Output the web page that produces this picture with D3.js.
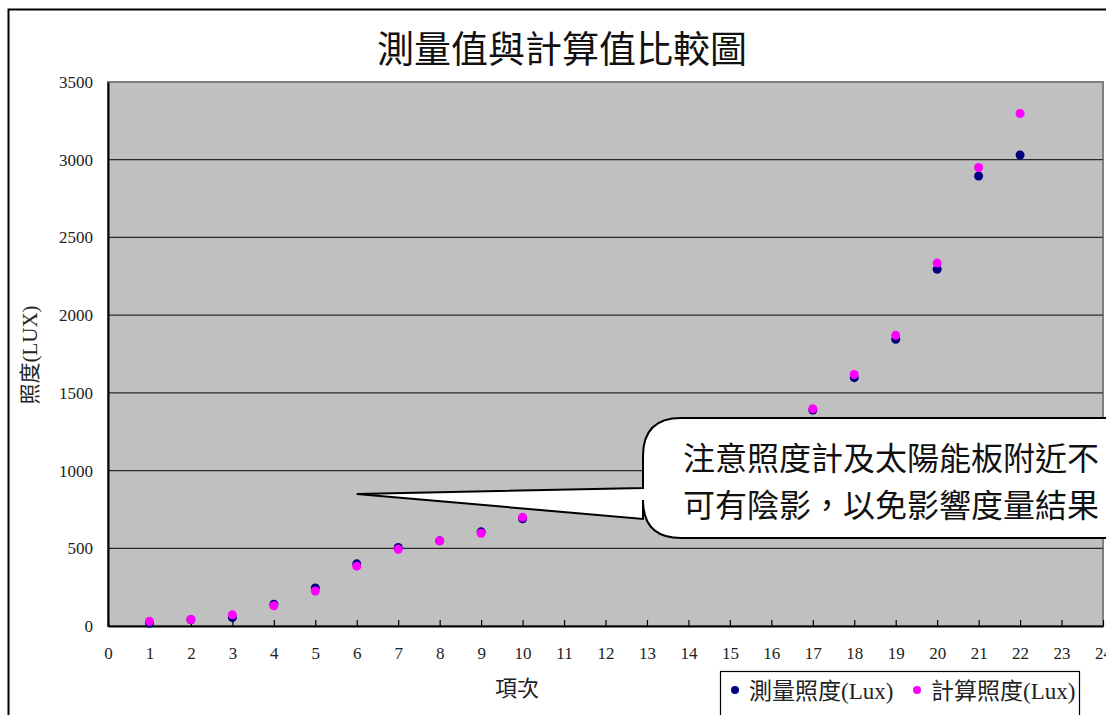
<!DOCTYPE html>
<html>
<head>
<meta charset="utf-8">
<script src="https://cdn.jsdelivr.net/npm/d3@7"></script>
<style>
  html, body { margin: 0; padding: 0; background: #fff; }
  svg { display: block; }
</style>
</head>
<body>
<svg id="chart" width="1106" height="715"></svg>
<script>
// Measurement items (項次) and illuminance values in lux
const items = [1, 2, 3, 4, 5, 6, 7, 8, 9, 10, 17, 18, 19, 20, 21, 22];
const measured = [18, 40, 55, 140, 245, 400, 505, 548, 606, 690, 1390, 1598, 1845, 2295, 2895, 3030];
const calculated = [30, 42, 72, 130, 225, 385, 493, 548, 597, 700, 1398, 1618, 1870, 2335, 2950, 3297];
const xTicks = d3.range(0, 25);
const yTicks = [0, 500, 1000, 1500, 2000, 2500, 3000, 3500];
const seriesNames = ["測量照度(Lux)", "計算照度(Lux)"];
const seriesColors = ["#000080", "#FF00FF"];
const noteLines = ["注意照度計及太陽能板附近不", "可有陰影，以免影響度量結果"];
const noteTarget = [6, 850];

const svg = d3.select("#chart");
const cjk = "'Noto Sans CJK TC', 'Noto Sans CJK SC', sans-serif";
const serif = "'Liberation Serif', 'DejaVu Serif', serif";
const mixed = "'Liberation Serif', 'Noto Sans CJK TC', serif";

const plot = { left: 108, right: 1103, top: 82, bottom: 626 };
const x = d3.scaleLinear().domain([0, 24]).range([plot.left, plot.right]);
const y = d3.scaleLinear().domain([0, 3500]).range([plot.bottom, plot.top]);

// outer chart frame
svg.append("rect")
  .attr("x", 8.5).attr("y", 9.5).attr("width", 1120).attr("height", 740)
  .attr("fill", "#fff").attr("stroke", "#000").attr("stroke-width", 2);

// title
svg.append("text")
  .attr("x", 562).attr("y", 63)
  .attr("text-anchor", "middle")
  .attr("font-family", cjk).attr("font-size", 37).attr("fill", "#111")
  .text("測量值與計算值比較圖");

// plot area
svg.append("rect")
  .attr("x", plot.left).attr("y", plot.top)
  .attr("width", plot.right - plot.left).attr("height", plot.bottom - plot.top)
  .attr("fill", "#C0C0C0").attr("stroke", "#808080").attr("stroke-width", 2);

// horizontal gridlines
svg.append("g")
  .selectAll("line")
  .data(yTicks.filter(v => v > 0 && v < 3500))
  .join("line")
  .attr("x1", plot.left).attr("x2", plot.right)
  .attr("y1", d => y(d)).attr("y2", d => y(d))
  .attr("stroke", "#2a2a2a").attr("stroke-width", 1.2);

// x axis with inward ticks
const xAxis = d3.axisBottom(x).tickValues(xTicks).tickSizeInner(-6).tickSizeOuter(0).tickPadding(24);
const gx = svg.append("g").attr("transform", `translate(0,${plot.bottom})`).call(xAxis);
gx.select(".domain").attr("stroke", "#000").attr("stroke-width", 2);
gx.selectAll(".tick line").attr("stroke", "#000").attr("stroke-width", 1.2);
gx.selectAll(".tick text")
  .attr("font-family", serif).attr("font-size", 17).attr("fill", "#222")
  .attr("dy", "0.5em");

// y axis
const yAxis = d3.axisLeft(y).tickValues(yTicks).tickFormat(d3.format("d")).tickSize(0).tickPadding(15);
const gy = svg.append("g").attr("transform", `translate(${plot.left},0)`).call(yAxis);
gy.select(".domain").attr("stroke", "#000").attr("stroke-width", 2);
gy.selectAll(".tick text")
  .attr("font-family", serif).attr("font-size", 17).attr("fill", "#222");

// axis titles
svg.append("text")
  .attr("x", 517).attr("y", 696)
  .attr("text-anchor", "middle")
  .attr("font-family", cjk).attr("font-size", 22).attr("fill", "#222")
  .text("項次");

svg.append("text")
  .attr("transform", "translate(37,355) rotate(-90)")
  .attr("text-anchor", "middle")
  .attr("font-family", mixed).attr("font-size", 21).attr("fill", "#222")
  .text("照度(LUX)");

// data points: measured first, calculated on top
const series = [measured, calculated];
series.forEach((vals, i) => {
  svg.append("g")
    .selectAll("circle")
    .data(items.map((it, k) => [it, vals[k]]))
    .join("circle")
    .attr("cx", d => x(d[0]))
    .attr("cy", d => y(d[1]))
    .attr("r", 4.5)
    .attr("fill", seriesColors[i]);
});

// callout bubble with pointer
const tip = [x(noteTarget[0]), y(noteTarget[1])];
const bx0 = 643, bx1 = 1160, by0 = 418, by1 = 538, r = 38;
const j0 = 488, j1 = 519;
const bubble = d3.path();
bubble.moveTo(bx0 + r, by0);
bubble.lineTo(bx1 - r, by0);
bubble.quadraticCurveTo(bx1, by0, bx1, by0 + r);
bubble.lineTo(bx1, by1 - r);
bubble.quadraticCurveTo(bx1, by1, bx1 - r, by1);
bubble.lineTo(bx0 + r, by1);
bubble.quadraticCurveTo(bx0, by1, bx0, by1 - r);
bubble.lineTo(bx0, j1);
bubble.lineTo(tip[0], tip[1]);
bubble.lineTo(bx0, j0);
bubble.lineTo(bx0, by0 + r);
bubble.quadraticCurveTo(bx0, by0, bx0 + r, by0);
bubble.closePath();
svg.append("path")
  .attr("d", bubble.toString())
  .attr("fill", "#fff").attr("stroke", "#000").attr("stroke-width", 2)
  .attr("stroke-linejoin", "miter");

svg.append("g")
  .selectAll("text")
  .data(noteLines)
  .join("text")
  .attr("x", 683)
  .attr("y", (d, i) => 470 + i * 47)
  .attr("font-family", cjk).attr("font-size", 32).attr("fill", "#111")
  .text(d => d);

// legend
const lg = svg.append("g");
lg.append("rect")
  .attr("x", 720.5).attr("y", 671.5).attr("width", 359).attr("height", 60)
  .attr("fill", "#fff").attr("stroke", "#000").attr("stroke-width", 1.2);
const legendX = [735, 917];
seriesNames.forEach((name, i) => {
  lg.append("circle")
    .attr("cx", legendX[i]).attr("cy", 690).attr("r", 4)
    .attr("fill", seriesColors[i]);
  lg.append("text")
    .attr("x", legendX[i] + 14).attr("y", 699)
    .attr("font-family", mixed).attr("font-size", 23).attr("fill", "#222")
    .text(name);
});
</script>
</body>
</html>
